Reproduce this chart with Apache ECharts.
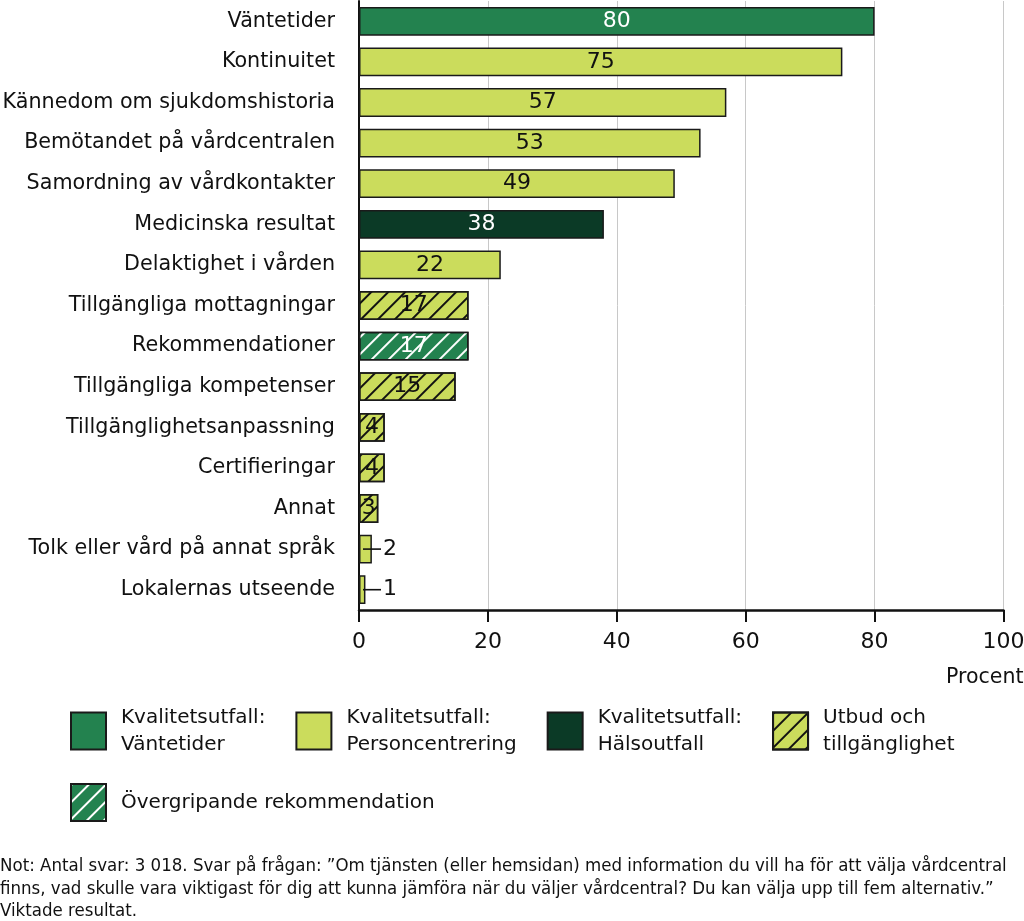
<!DOCTYPE html>
<html>
<head>
<meta charset="utf-8">
<script src="https://cdn.jsdelivr.net/npm/echarts@6/dist/echarts.min.js"></script>
<style>
html,body{margin:0;padding:0;background:#fff;}
#chart{width:1024px;height:921px;}
</style>
</head>
<body>
<div id="chart"></div>
<script>
const categories = [
  'Väntetider',
  'Kontinuitet',
  'Kännedom om sjukdomshistoria',
  'Bemötandet på vårdcentralen',
  'Samordning av vårdkontakter',
  'Medicinska resultat',
  'Delaktighet i vården',
  'Tillgängliga mottagningar',
  'Rekommendationer',
  'Tillgängliga kompetenser',
  'Tillgänglighetsanpassning',
  'Certifieringar',
  'Annat',
  'Tolk eller vård på annat språk',
  'Lokalernas utseende'
];
const values = [80, 75, 57, 53, 49, 38, 22, 17, 17, 15, 4, 4, 3, 2, 1];
// index into groupNames for each category
const groupOfCategory = [0, 1, 1, 1, 1, 2, 1, 3, 4, 3, 3, 3, 3, 1, 1];
const groupNames = [
  'Kvalitetsutfall:\nVäntetider',
  'Kvalitetsutfall:\nPersoncentrering',
  'Kvalitetsutfall:\nHälsoutfall',
  'Utbud och\ntillgänglighet',
  'Övergripande rekommendation'
];
const xTicks = [0, 20, 40, 60, 80, 100];
const axisName = 'Procent';
const noteLines = [
  'Not: Antal svar: 3 018. Svar på frågan: ”Om tjänsten (eller hemsidan) med information du vill ha för att välja vårdcentral',
  'finns, vad skulle vara viktigast för dig att kunna jämföra när du väljer vårdcentral? Du kan välja upp till fem alternativ.”',
  'Viktade resultat.'
];

const FONT = "'DejaVu Sans', sans-serif";
const NOTE_FONT = "'DejaVu Sans Condensed', 'Liberation Sans Narrow', 'DejaVu Sans', sans-serif";
const GREEN = '#23824f';
const LIME = '#cbdc5c';
const DARK = '#0b3a26';
const BORDER = '#1a1a1a';

const hatch = (c) => ({
  symbol: 'rect',
  symbolSize: 1,
  dashArrayX: [1, 0],
  dashArrayY: [1.7, 9.2],
  rotation: -Math.PI / 4,
  color: c
});

const groupStyles = [
  { color: GREEN, text: '#fff', decal: null },
  { color: LIME, text: '#111', decal: null },
  { color: DARK, text: '#fff', decal: null },
  { color: LIME, text: '#111', decal: hatch('#111') },
  { color: GREEN, text: '#fff', decal: hatch('#fff') }
];

const series = groupNames.map((name, g) => {
  const st = groupStyles[g];
  const itemStyle = { color: st.color, borderColor: BORDER, borderWidth: 1.5 };
  if (st.decal) itemStyle.decal = st.decal;
  return {
    name: name,
    type: 'bar',
    stack: 'all',
    barWidth: '71%',
    itemStyle: itemStyle,
    label: {
      show: true,
      position: 'inside',
      color: st.text,
      fontFamily: FONT,
      fontSize: 22
    },
    data: values.map((v, i) => {
      if (groupOfCategory[i] !== g) return '-';
      if (v < 3) {
        return {
          value: v,
          label: {
            show: true,
            position: [4, '50%'],
            align: 'left',
            verticalAlign: 'middle',
            formatter: '{l|}{v|' + v + '}',
            rich: {
              l: { width: 18, height: 1.6, backgroundColor: '#111' },
              v: { fontSize: 22, fontFamily: FONT, color: '#111', padding: [0, 0, 0, 2] }
            }
          }
        };
      }
      return v;
    })
  };
});

const legendText = { fontFamily: FONT, fontSize: 20, color: '#111', lineHeight: 27, padding: [0, 0, 0, 10] };

const chart = echarts.init(document.getElementById('chart'), null, { renderer: 'canvas' });
chart.setOption({
  backgroundColor: '#fff',
  animation: false,
  grid: { left: 359, right: 20.5, top: 1, bottom: 311, containLabel: false, outerBoundsMode: 'none' },
  xAxis: {
    type: 'value',
    min: xTicks[0],
    max: xTicks[xTicks.length - 1],
    interval: xTicks[1] - xTicks[0],
    name: axisName,
    nameLocation: 'end',
    nameGap: 20,
    nameTextStyle: { fontFamily: FONT, fontSize: 20.5, color: '#111', align: 'right', verticalAlign: 'top', padding: [57, 0, 0, 0] },
    axisLine: { show: true, lineStyle: { color: '#111', width: 2.5 } },
    axisTick: { show: true, length: 12, lineStyle: { color: '#111', width: 2 } },
    axisLabel: { fontFamily: FONT, fontSize: 22, color: '#111', margin: 21 },
    splitLine: { show: true, lineStyle: { color: '#c8c8c8', width: 1 } }
  },
  yAxis: {
    type: 'category',
    inverse: true,
    data: categories,
    axisLine: { show: true, onZero: false, lineStyle: { color: '#111', width: 2 } },
    axisTick: { show: false },
    axisLabel: { fontFamily: FONT, fontSize: 20.7, color: '#111', margin: 24 },
    splitLine: { show: false }
  },
  legend: [
    {
      data: groupNames.slice(0, 4),
      left: 70,
      top: 704,
      padding: 0,
      orient: 'horizontal',
      icon: 'rect',
      itemWidth: 35,
      itemHeight: 37,
      itemGap: 30,
      selectedMode: false,
      textStyle: legendText
    },
    {
      data: groupNames.slice(4),
      left: 70,
      top: 783,
      padding: 0,
      orient: 'horizontal',
      icon: 'rect',
      itemWidth: 35,
      itemHeight: 37,
      itemGap: 30,
      selectedMode: false,
      textStyle: legendText
    }
  ],
  graphic: [
    {
      type: 'text',
      left: 0,
      top: 855,
      style: {
        text: noteLines.join('\n'),
        font: '18.5px ' + NOTE_FONT,
        fill: '#111',
        lineHeight: 22.5
      }
    }
  ],
  series: series
});
</script>
</body>
</html>
